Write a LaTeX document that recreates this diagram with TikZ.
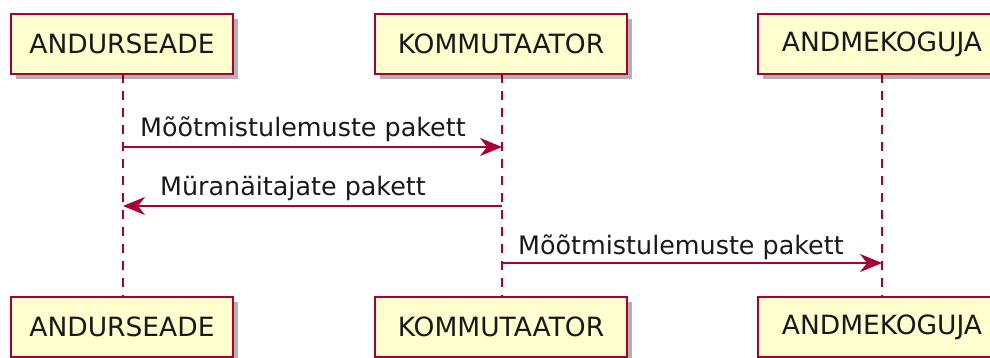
\documentclass[tikz,border=0pt]{standalone}
\usepackage{fontspec}
\setmainfont{DejaVu Sans}
\usetikzlibrary{arrows.meta,shadows}
\definecolor{umlred}{HTML}{A80036}
\definecolor{umlfill}{HTML}{FEFECE}
\tikzset{
  party/.style={draw=umlred, line width=1.8pt, fill=umlfill,
    minimum height=60pt, inner sep=0pt, text=black!90,
    font=\fontsize{26.5}{32}\selectfont,
    drop shadow={shadow xshift=5pt, shadow yshift=-5pt, fill=black, opacity=0.3}},
  lifeline/.style={draw=umlred, line width=1.4pt, dash pattern=on 9pt off 8pt},
  msg/.style={draw=umlred, line width=1.8pt,
    -{Stealth[length=22pt, width=18pt, inset=7pt]}},
  msgtext/.style={inner sep=0pt, anchor=base west, text=black!90,
    font=\fontsize{25.4}{30}\selectfont}
}
\begin{document}
\begin{tikzpicture}[x=1pt, y=-1pt]
  \useasboundingbox (0,0) rectangle (990,358);
  \clip (0,0) rectangle (990,358);

  % lifeline anchors
  \coordinate (At) at (123,74);  \coordinate (Ab) at (123,297);
  \coordinate (Kt) at (502,74);  \coordinate (Kb) at (502,297);
  \coordinate (Dt) at (882,74);  \coordinate (Db) at (882,297);

  % lifelines
  \draw[lifeline] (At) -- (Ab);
  \draw[lifeline] (Kt) -- (Kb);
  \draw[lifeline] (Dt) -- (Db);

  % participants, top
  \node[party, minimum width=222pt] (A1) at (122,44) {ANDURSEADE};
  \node[party, minimum width=252pt] (K1) at (501,44) {KOMMUTAATOR};
  \node[party, minimum width=248pt] (D1) at (882,44) {ANDMEKOGUJA};

  % participants, bottom
  \node[party, minimum width=222pt] (A2) at (122,327) {ANDURSEADE};
  \node[party, minimum width=252pt] (K2) at (501,327) {KOMMUTAATOR};
  \node[party, minimum width=248pt] (D2) at (882,327) {ANDMEKOGUJA};

  % message end points
  \coordinate (m1a) at (123,147); \coordinate (m1b) at (502,147);
  \coordinate (m2a) at (502,206); \coordinate (m2b) at (123,206);
  \coordinate (m3a) at (502,263); \coordinate (m3b) at (882,263);

  % messages
  \draw[msg] (m1a) -- (m1b);
  \node[msgtext] (t1) at (140,137) {Mõõtmistulemuste pakett};

  \draw[msg] (m2a) -- (m2b);
  \node[msgtext] (t2) at (160,196) {Müranäitajate pakett};

  \draw[msg] (m3a) -- (m3b);
  \node[msgtext] (t3) at (518,254) {Mõõtmistulemuste pakett};
\end{tikzpicture}
\end{document}
